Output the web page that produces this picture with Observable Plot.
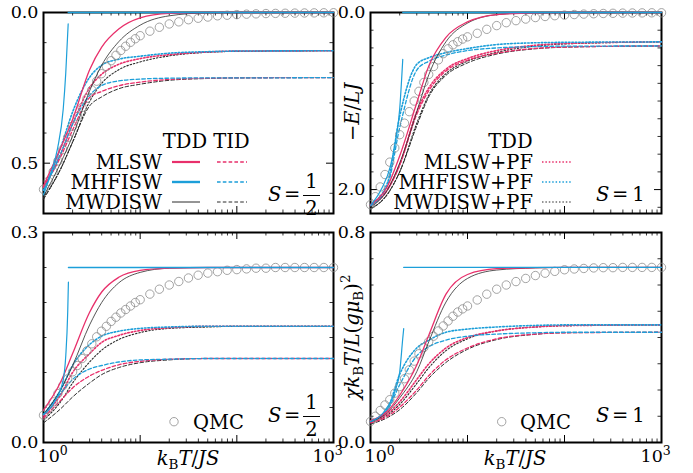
<!DOCTYPE html>
<html><head><meta charset="utf-8">
<script src="https://cdn.jsdelivr.net/npm/d3@7"></script>
<script src="https://cdn.jsdelivr.net/npm/@observablehq/plot@0.6"></script>
<style>
body{margin:0;background:#fff}
#wrap{position:relative;width:693px;height:473px;overflow:hidden}
#wrap svg{position:absolute;left:0;top:0}
</style></head><body><div id="wrap"></div>
<script>
// ---------------- data ----------------
const T_GRID = [1, 1.5, 2, 3, 4, 6, 10, 20, 50, 100, 1000];
const T_QMC = [1, 1.12, 1.26, 1.41, 1.58, 1.78, 2, 2.24, 2.51, 2.82, 3.16, 3.55, 3.98, 4.47, 5.01, 5.62, 6.31, 7.08, 7.94, 8.91, 10,
  12.6, 15.8, 20, 25.1, 31.6, 39.8, 50.1, 63.1, 79.4, 100, 126, 158, 200, 251, 316, 398, 501, 631, 794, 1000];

// (a) S=1/2, -E/LJ
const eHalf_MLSW_TDD   = [0.575, 0.45, 0.355, 0.19, 0.115, 0.055, 0.018, 0.003, 0.0, 0.0, 0.0];
const eHalf_MWDISW_TDD = [0.61, 0.50, 0.41, 0.26, 0.175, 0.097, 0.042, 0.011, 0.001, 0.0, 0.0];
const eHalf_MHFISW_lowT = [1, 1.2, 1.4, 1.6, 1.7, 1.8];
const eHalf_MHFISW_low  = [0.605, 0.53, 0.45, 0.32, 0.2, 0.038];
const eHalf_MHFISW_highT = [1.8, 1000];
const eHalf_MHFISW_high  = [0, 0];
const eHalf_MLSW_TID   = [0.58, 0.48, 0.39, 0.282, 0.262, 0.243, 0.231, 0.222, 0.218, 0.217, 0.216];
const eHalf_MHFISW_TID = [0.59, 0.47, 0.37, 0.275, 0.242, 0.227, 0.221, 0.218, 0.217, 0.217, 0.216];
const eHalf_MWDISW_TID = [0.62, 0.52, 0.43, 0.31, 0.28, 0.253, 0.238, 0.225, 0.219, 0.217, 0.216];
const eHalf_MLSW_PF    = [0.58, 0.47, 0.37, 0.25, 0.205, 0.172, 0.153, 0.14, 0.131, 0.128, 0.127];
const eHalf_MHFISW_PF  = [0.59, 0.45, 0.33, 0.215, 0.175, 0.155, 0.145, 0.135, 0.13, 0.128, 0.127];
const eHalf_MWDISW_PF  = [0.615, 0.52, 0.43, 0.295, 0.235, 0.19, 0.164, 0.144, 0.132, 0.129, 0.127];
const eHalf_QMC = [0.587, 0.56, 0.528, 0.493, 0.455, 0.415, 0.377, 0.345, 0.315, 0.285, 0.257, 0.228, 0.203, 0.179, 0.16, 0.142, 0.126, 0.112, 0.099, 0.087, 0.077,
  0.062, 0.049, 0.038, 0.031, 0.024, 0.019, 0.015, 0.011, 0.009, 0.007, 0.0055, 0.0045, 0.0035, 0.003, 0.0025, 0.002, 0.0016, 0.0013, 0.001, 0.0008];

// (b) S=1, -E/LJ
const eOne_MLSW_TDD   = [2.17, 1.96, 1.62, 1.02, 0.60, 0.28, 0.106, 0.023, 0.003, 0, 0];
const eOne_MWDISW_TDD = [2.2, 2.0, 1.7, 1.12, 0.70, 0.33, 0.12, 0.025, 0.003, 0, 0];
const eOne_MHFISW_lowT = [1, 1.3, 1.6, 1.8, 2.0, 2.15];
const eOne_MHFISW_low  = [2.18, 1.99, 1.74, 1.47, 1.09, 0.53];
const eOne_MHFISW_highT = [2.15, 1000];
const eOne_MHFISW_high  = [0, 0];
const eOne_MLSW_TID   = [2.18, 2.0, 1.72, 1.15, 0.88, 0.66, 0.54, 0.46, 0.405, 0.39, 0.378];
const eOne_MHFISW_TID = [2.18, 1.95, 1.3, 0.65, 0.55, 0.48, 0.43, 0.40, 0.385, 0.38, 0.378];
const eOne_MWDISW_TID = [2.22, 2.05, 1.8, 1.28, 0.95, 0.71, 0.57, 0.47, 0.41, 0.392, 0.378];
const eOne_MLSW_PF    = [2.18, 2.0, 1.72, 1.12, 0.85, 0.64, 0.52, 0.43, 0.37, 0.35, 0.332];
const eOne_MHFISW_PF  = [2.17, 1.92, 1.17, 0.585, 0.51, 0.453, 0.407, 0.362, 0.342, 0.337, 0.332];
const eOne_MWDISW_PF  = [2.22, 2.05, 1.8, 1.25, 0.93, 0.69, 0.55, 0.45, 0.38, 0.355, 0.332];
const eOne_QMC = [2.17, 2.08, 1.97, 1.83, 1.69, 1.53, 1.38, 1.25, 1.12, 1.0, 0.89, 0.79, 0.70, 0.61, 0.535, 0.465, 0.41, 0.365, 0.33, 0.30, 0.275,
  0.235, 0.19, 0.148, 0.115, 0.092, 0.074, 0.057, 0.045, 0.036, 0.029, 0.023, 0.018, 0.014, 0.011, 0.009, 0.007, 0.0055, 0.0045, 0.0035, 0.003];

// (c) S=1/2, chi kB T / L (g muB)^2
const cHalf_MLSW_TDD   = [0.046, 0.086, 0.127, 0.186, 0.215, 0.236, 0.246, 0.249, 0.25, 0.25, 0.25];
const cHalf_MWDISW_TDD = [0.04, 0.075, 0.11, 0.168, 0.2, 0.228, 0.243, 0.249, 0.25, 0.25, 0.25];
const cHalf_MHFISW_lowT = [1, 1.3, 1.6, 1.7, 1.78, 1.81];
const cHalf_MHFISW_low  = [0.04, 0.058, 0.09, 0.124, 0.186, 0.229];
const cHalf_MHFISW_highT = [1.81, 1000];
const cHalf_MHFISW_high  = [0.25, 0.25];
const cHalf_MLSW_TID   = [0.035, 0.06, 0.078, 0.095, 0.103, 0.111, 0.116, 0.119, 0.12, 0.12, 0.12];
const cHalf_MHFISW_TID = [0.04, 0.07, 0.09, 0.105, 0.11, 0.115, 0.118, 0.119, 0.12, 0.12, 0.12];
const cHalf_MWDISW_TID = [0.028, 0.048, 0.065, 0.085, 0.097, 0.107, 0.114, 0.118, 0.12, 0.12, 0.12];
const cHalf_MLSW_PF    = [0.038, 0.068, 0.1, 0.127, 0.143, 0.153, 0.16, 0.164, 0.166, 0.166, 0.166];
const cHalf_MHFISW_PF  = [0.04, 0.075, 0.11, 0.14, 0.152, 0.159, 0.163, 0.165, 0.166, 0.166, 0.166];
const cHalf_MWDISW_PF  = [0.032, 0.058, 0.085, 0.115, 0.132, 0.147, 0.157, 0.163, 0.165, 0.166, 0.166];
const cHalf_QMC = [0.039, 0.048, 0.058, 0.07, 0.081, 0.091, 0.101, 0.11, 0.12, 0.131, 0.141, 0.151, 0.159, 0.166, 0.173, 0.179, 0.185, 0.19, 0.195, 0.2, 0.204,
  0.212, 0.219, 0.225, 0.23, 0.235, 0.239, 0.242, 0.244, 0.246, 0.247, 0.248, 0.249, 0.249, 0.25, 0.25, 0.25, 0.25, 0.25, 0.25, 0.25];

// (d) S=1, chi kB T / L (g muB)^2
const cOne_MLSW_TDD   = [0.083, 0.12, 0.18, 0.295, 0.41, 0.565, 0.64, 0.662, 0.666, 0.667, 0.667];
const cOne_MWDISW_TDD = [0.08, 0.115, 0.17, 0.27, 0.385, 0.535, 0.625, 0.657, 0.665, 0.667, 0.667];
const cOne_MHFISW_lowT = [1, 1.4, 1.8, 2.0, 2.15, 2.2];
const cOne_MHFISW_low  = [0.08, 0.12, 0.199, 0.268, 0.396, 0.434];
const cOne_MHFISW_highT = [2.2, 1000];
const cOne_MHFISW_high  = [0.667, 0.667];
const cOne_MLSW_TID   = [0.075, 0.1, 0.135, 0.2, 0.255, 0.315, 0.36, 0.395, 0.413, 0.418, 0.42];
const cOne_MHFISW_TID = [0.08, 0.125, 0.22, 0.33, 0.365, 0.39, 0.405, 0.413, 0.418, 0.42, 0.42];
const cOne_MWDISW_TID = [0.07, 0.095, 0.125, 0.19, 0.245, 0.305, 0.355, 0.392, 0.412, 0.418, 0.42];
const cOne_MLSW_PF    = [0.08, 0.11, 0.155, 0.24, 0.3, 0.36, 0.4, 0.425, 0.44, 0.445, 0.448];
const cOne_MHFISW_PF  = [0.08, 0.13, 0.26, 0.36, 0.39, 0.42, 0.432, 0.44, 0.446, 0.448, 0.448];
const cOne_MWDISW_PF  = [0.075, 0.105, 0.145, 0.225, 0.285, 0.35, 0.395, 0.425, 0.44, 0.445, 0.448];
const cOne_QMC = [0.08, 0.1, 0.122, 0.143, 0.163, 0.188, 0.213, 0.243, 0.277, 0.31, 0.338, 0.362, 0.384, 0.405, 0.425, 0.444, 0.463, 0.481, 0.497, 0.509, 0.52,
  0.543, 0.565, 0.584, 0.6, 0.613, 0.625, 0.636, 0.645, 0.652, 0.658, 0.661, 0.663, 0.665, 0.666, 0.666, 0.667, 0.667, 0.667, 0.667, 0.667];

// ticks
const X_MAJOR = [1, 10, 100, 1000];
const X_MINOR = [2, 3, 4, 5, 6, 7, 8, 9, 20, 30, 40, 50, 60, 70, 80, 90, 200, 300, 400, 500, 600, 700, 800, 900];
const X_LABELS = [1, 1000];

// ---------------- drawing ----------------
const W = 693, H = 473;
const PINK = "#e8306b", BLUE = "#1c9fd9", DARK = "#2a2a2a", GRAY = "#8c8c8c";
const FONT = "DejaVu Serif";
const FS = 19.5, FS_TICK = 17.5;
const rows = (Ts, vals) => Ts.map((T, i) => ({T, v: vals[i]}));

function panel(o) {
  const [x0, x1] = o.xr, [y0, y1] = o.yr;
  const fw = x1 - x0, fh = y1 - y0;
  const L = (Ts, vals, stroke, sw, dash) =>
    Plot.line(rows(Ts, vals), {x: "T", y: "v", stroke, strokeWidth: sw, strokeDasharray: dash, curve: "monotone-x"});
  const PFd = "1.5,1.9", TIDd = "3.6,2.2";
  const marks = [
    Plot.frame({stroke: "black", strokeWidth: 2}),
    Plot.tickX(X_MAJOR, {x: d => d, insetTop: fh - 7, strokeWidth: 1}),
    Plot.tickX(X_MAJOR, {x: d => d, insetBottom: fh - 7, strokeWidth: 1}),
    Plot.tickX(X_MINOR, {x: d => d, insetTop: fh - 3.5, strokeWidth: 0.8}),
    Plot.tickX(X_MINOR, {x: d => d, insetBottom: fh - 3.5, strokeWidth: 0.8}),
    Plot.tickY(o.yMajor, {y: d => d, insetRight: fw - 7, strokeWidth: 1}),
    Plot.tickY(o.yMajor, {y: d => d, insetLeft: fw - 7, strokeWidth: 1}),
    Plot.tickY(o.yMinor, {y: d => d, insetRight: fw - 3.5, strokeWidth: 0.8}),
    Plot.tickY(o.yMinor, {y: d => d, insetLeft: fw - 3.5, strokeWidth: 0.8}),
    // PF (dotted)
    L(T_GRID, o.d.MWDISW_PF, DARK, 1.1, PFd),
    L(T_GRID, o.d.MLSW_PF, PINK, 1.6, PFd),
    L(T_GRID, o.d.MHFISW_PF, BLUE, 1.6, PFd),
    // TID (dashed)
    L(T_GRID, o.d.MWDISW_TID, DARK, 1.0, TIDd),
    L(T_GRID, o.d.MLSW_TID, PINK, 1.3, TIDd),
    L(T_GRID, o.d.MHFISW_TID, BLUE, 1.3, TIDd),
    // QMC
    Plot.dot(rows(T_QMC, o.d.QMC), {x: "T", y: "v", r: 4.2, stroke: GRAY, strokeWidth: 0.8, fill: "none"}),
    // TDD (solid)
    L(T_GRID, o.d.MWDISW_TDD, DARK, 0.8),
    L(T_GRID, o.d.MLSW_TDD, PINK, 1.3),
    L(o.d.MHFISW_lowT, o.d.MHFISW_low, BLUE, 1.2),
    L(o.d.MHFISW_highT, o.d.MHFISW_high, BLUE, 1.3),
    Plot.axisY(o.yLabels, {tickSize: 0, tickPadding: 5, tickFormat: d3.format(".1f"), fontSize: FS_TICK, label: null})
  ];
  if (o.showX) marks.push(Plot.axisX(X_LABELS, {tickSize: 0, tickPadding: 7, fontSize: FS_TICK, label: null,
    tickFormat: d => "10^" + Math.round(Math.log10(d))}));
  const svg = Plot.plot({
    width: W, height: H,
    marginLeft: x0, marginRight: W - x1, marginTop: y0, marginBottom: H - y1,
    x: {type: "log", domain: [1, 1000], axis: null},
    y: {domain: o.yDomain, reverse: o.reverse, axis: null},
    style: {background: "none", fontFamily: FONT, fontSize: FS_TICK + "px", color: "black", overflow: "visible"},
    marks
  });
  d3.select(svg).selectAll('g[aria-label="x-axis tick label"] text').each(function () {
    const [b, e] = this.textContent.split("^");
    const t = d3.select(this);
    t.text(null).attr("text-anchor", "start").attr("dx", e === "0" ? -6 : -21);
    t.append("tspan").text(b);
    t.append("tspan").attr("dy", -7).attr("font-size", 12.5).text(e);
  });
  return svg;
}

const pack = (p) => ({
  MLSW_TDD: p[0], MWDISW_TDD: p[1], MHFISW_lowT: p[2], MHFISW_low: p[3], MHFISW_highT: p[4], MHFISW_high: p[5],
  MLSW_TID: p[6], MHFISW_TID: p[7], MWDISW_TID: p[8], MLSW_PF: p[9], MHFISW_PF: p[10], MWDISW_PF: p[11], QMC: p[12]
});

const wrap = document.getElementById("wrap");
wrap.append(panel({xr: [43, 333], yr: [12, 213], yDomain: [0, 0.667], reverse: true,
  yMajor: [0, 0.5], yMinor: [0.1, 0.2, 0.3, 0.4, 0.6], yLabels: [0, 0.5], showX: false,
  d: pack([eHalf_MLSW_TDD, eHalf_MWDISW_TDD, eHalf_MHFISW_lowT, eHalf_MHFISW_low, eHalf_MHFISW_highT, eHalf_MHFISW_high,
    eHalf_MLSW_TID, eHalf_MHFISW_TID, eHalf_MWDISW_TID, eHalf_MLSW_PF, eHalf_MHFISW_PF, eHalf_MWDISW_PF, eHalf_QMC])}));
wrap.append(panel({xr: [370, 661], yr: [12, 213], yDomain: [0, 2.27], reverse: true,
  yMajor: [0, 2.0], yMinor: [0.2, 0.4, 0.6, 0.8, 1.0, 1.2, 1.4, 1.6, 1.8, 2.2], yLabels: [0, 2.0], showX: false,
  d: pack([eOne_MLSW_TDD, eOne_MWDISW_TDD, eOne_MHFISW_lowT, eOne_MHFISW_low, eOne_MHFISW_highT, eOne_MHFISW_high,
    eOne_MLSW_TID, eOne_MHFISW_TID, eOne_MWDISW_TID, eOne_MLSW_PF, eOne_MHFISW_PF, eOne_MWDISW_PF, eOne_QMC])}));
wrap.append(panel({xr: [43, 333], yr: [232, 442], yDomain: [0, 0.3], reverse: false,
  yMajor: [0, 0.3], yMinor: [0.05, 0.1, 0.15, 0.2, 0.25], yLabels: [0, 0.3], showX: true,
  d: pack([cHalf_MLSW_TDD, cHalf_MWDISW_TDD, cHalf_MHFISW_lowT, cHalf_MHFISW_low, cHalf_MHFISW_highT, cHalf_MHFISW_high,
    cHalf_MLSW_TID, cHalf_MHFISW_TID, cHalf_MWDISW_TID, cHalf_MLSW_PF, cHalf_MHFISW_PF, cHalf_MWDISW_PF, cHalf_QMC])}));
wrap.append(panel({xr: [370, 661], yr: [232, 442], yDomain: [0, 0.8], reverse: false,
  yMajor: [0, 0.8], yMinor: [0.1, 0.2, 0.3, 0.4, 0.5, 0.6, 0.7], yLabels: [0, 0.8], showX: true,
  d: pack([cOne_MLSW_TDD, cOne_MWDISW_TDD, cOne_MHFISW_lowT, cOne_MHFISW_low, cOne_MHFISW_highT, cOne_MHFISW_high,
    cOne_MLSW_TID, cOne_MHFISW_TID, cOne_MWDISW_TID, cOne_MLSW_PF, cOne_MHFISW_PF, cOne_MWDISW_PF, cOne_QMC])}));

// ---------------- overlay: legends, annotations, axis titles ----------------
const ov = d3.create("svg").attr("width", W).attr("height", H)
  .style("font-family", FONT).attr("font-size", FS).attr("fill", "black");

function rich(g, x, y, parts, anchor = "start") {
  const t = g.append("text").attr("x", x).attr("y", y).attr("text-anchor", anchor);
  let shift = 0;
  for (const p of parts) {
    const [s, o] = typeof p === "string" ? [p, {}] : p;
    const ts = t.append("tspan").text(s);
    if (o.i) ts.attr("font-style", "italic");
    const target = o.sub ? 4 : o.sup ? -9 : 0;
    if (target !== shift) { ts.attr("dy", target - shift); shift = target; }
    if (o.sub || o.sup) ts.attr("font-size", 13.5);
  }
  return t;
}
const seg = (x1, x2, y, color, w, dash) => ov.append("line").attr("x1", x1).attr("x2", x2).attr("y1", y).attr("y2", y)
  .attr("stroke", color).attr("stroke-width", w).attr("stroke-dasharray", dash || null);

// top-left legend
rich(ov, 185, 148, ["TDD"], "middle");
rich(ov, 231.5, 148, ["TID"], "middle");
const names = [["MLSW", PINK, 2.2, 1.4], ["MHFISW", BLUE, 2.4, 1.5], ["MWDISW", DARK, 1.0, 1.0]];
names.forEach(([n, c, w, w2], i) => {
  const y = 162 + 20 * i;
  rich(ov, 162, y + 7, [n], "end");
  seg(172, 200, y, c, w);
  seg(217, 247, y, c, w2, "3.6,2.2");
});
// top-right legend
rich(ov, 510.5, 148, ["TDD"], "middle");
names.forEach(([n, c, w], i) => {
  const y = 162 + 20 * i;
  rich(ov, 533, y + 7, [n + "+PF"], "end");
  seg(542, 571, y, c, c === DARK ? 1.1 : 1.7, "1.5,1.9");
});
// S labels
function sHalf(yb) {
  rich(ov, 268, yb, [["S", {i: 1}]]);
  rich(ov, 284, yb, ["="]);
  rich(ov, 311.5, yb - 13, ["1"], "middle");
  rich(ov, 311.5, yb + 14, ["2"], "middle");
  ov.append("line").attr("x1", 303).attr("x2", 320).attr("y1", yb - 5.5).attr("y2", yb - 5.5).attr("stroke", "black").attr("stroke-width", 1);
}
sHalf(201); sHalf(422);
function sOne(yb) {
  rich(ov, 596, yb, [["S", {i: 1}]]);
  rich(ov, 612, yb, ["="]);
  rich(ov, 638.5, yb, ["1"], "middle");
}
sOne(201); sOne(422);
// QMC legends
[[174, 193], [501.7, 520]].forEach(([cx, tx]) => {
  ov.append("circle").attr("cx", cx).attr("cy", 421.7).attr("r", 4.2).attr("fill", "none").attr("stroke", GRAY).attr("stroke-width", 0.8);
  rich(ov, tx, 429, ["QMC"]);
});
// x titles
[188, 515].forEach(cx => rich(ov, cx, 465, [["k", {i: 1}], ["B", {sub: 1}], ["T", {i: 1}], "/", ["JS", {i: 1}]], "middle"));
// y titles
const g1 = ov.append("g").attr("transform", "translate(359,112) rotate(-90)");
rich(g1, 0, 0, ["\u2212", ["E", {i: 1}], "/", ["LJ", {i: 1}]], "middle");
const g2 = ov.append("g").attr("transform", "translate(359,337) rotate(-90)");
rich(g2, 0, 0, [["\u03c7k", {i: 1}], ["B", {sub: 1}], ["T", {i: 1}], "/", ["L", {i: 1}], "(", ["g\u03bc", {i: 1}], ["B", {sub: 1}], ")", ["2", {sup: 1}]], "middle");

wrap.append(ov.node());
</script>
</body></html>
